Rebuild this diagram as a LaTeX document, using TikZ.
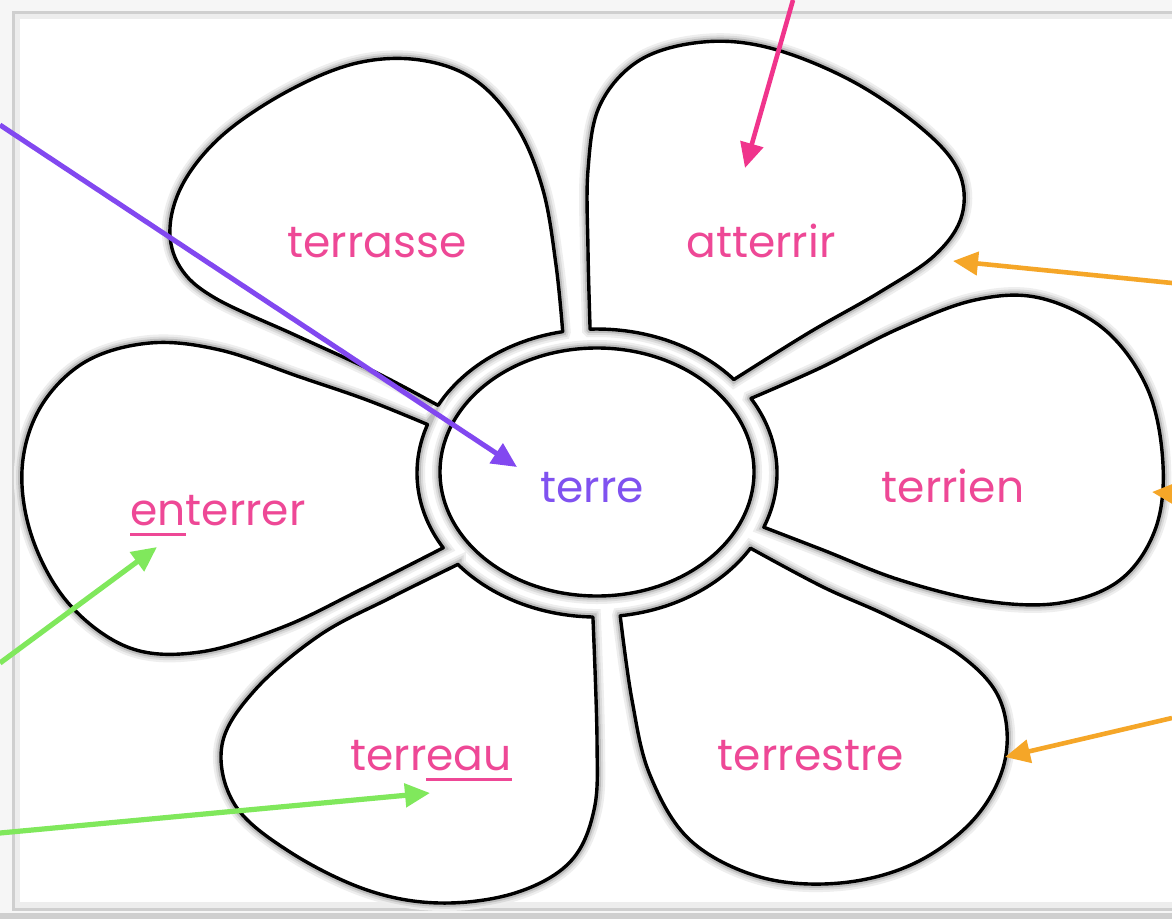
\documentclass[tikz,border=0pt]{standalone}
\usepackage{fontspec}
\setmainfont{Poppins}
\usetikzlibrary{arrows.meta}
\definecolor{pinktxt}{RGB}{238,72,150}
\definecolor{pinkarr}{RGB}{240,52,140}
\definecolor{purparr}{RGB}{130,72,240}
\definecolor{purptxt}{RGB}{128,82,240}
\definecolor{orangearr}{RGB}{245,166,40}
\definecolor{greenarr}{RGB}{128,232,92}
\newcommand\ulin[1]{\setbox0\hbox{#1}\rlap{\rule[-10.5pt]{\wd0}{2.5pt}}\box0}
\tikzset{
  halo/.style={preaction={draw=gray!13,line width=16pt},
               preaction={draw=gray!28,line width=11.5pt},
               draw=gray!52, line width=7.5pt},
  petal/.style={fill=white, draw=black, line width=3.4pt, line join=round},
  lbl/.style={anchor=base, inner sep=0pt, text=pinktxt, font=\fontsize{44}{50}\selectfont},
  arr/.style={line width=4.6pt, -{Triangle[length=25pt,width=23pt]}},
  pterrasse/.style={insert path={plot[smooth,tension=0.6] coordinates {(562.7,331.6) (556,265) (543,190) (517,127) (475,80) (420,60) (357,63) (290,90) (225,133) (185,180) (170,227) (180,267) (215,298) (295,335) (375,372) (438.1,405.4)} arc[start angle=-152, end angle=-101, x radius=180, y radius=144] -- cycle}},
  patterrir/.style={insert path={plot[smooth,tension=0.6] coordinates {(590.1,329.1) (588,250) (588,170) (600,105) (640,60) (703,42) (770,48) (850,80) (920,127) (958,170) (962,215) (935,255) (880,292) (810,332) (733.9,379.5)} arc[start angle=-40.5, end angle=-92.2, x radius=180, y radius=144] -- cycle}},
  penterrer/.style={insert path={plot[smooth,tension=0.6] coordinates {(427.5,424.5) (367,400) (300,377) (220,350) (150,343) (85,362) (40,408) (22,470) (33,540) (70,605) (130,648) (200,652) (283,627) (360,590) (443.2,547.8)} arc[start angle=148.7, end angle=199.7, x radius=180, y radius=144] -- cycle}},
  pterreau/.style={insert path={plot[smooth,tension=0.6] coordinates {(457.9,564.4) (390,598) (320,635) (255,690) (222,745) (235,805) (290,852) (367,890) (440,903) (515,893) (570,862) (594,810) (597,740) (592.9,617)} arc[start angle=91.3, end angle=140.6, x radius=180, y radius=144] -- cycle}},
  pterrestre/.style={insert path={plot[smooth,tension=0.6] coordinates {(620.2,615.8) (632,700) (650,775) (690,840) (760,877) (840,883) (915,863) (975,818) (1005,760) (1000,700) (960,655) (890,617) (823,587) (750.5,548.2)} arc[start angle=31.5, end angle=82.6, x radius=180, y radius=144] -- cycle}},
  pterrien/.style={insert path={plot[smooth,tension=0.6] coordinates {(751,398.4) (820,368) (900,328) (975,300) (1040,298) (1105,330) (1148,390) (1163,465) (1155,530) (1120,580) (1060,603) (985,601) (900,580) (823,550) (763.8,527.2)} arc[start angle=22.1, end angle=-31.2, x radius=180, y radius=144] -- cycle}},
  pcenter/.style={insert path={(597,472) ellipse[x radius=157, y radius=124]}}
}
\begin{document}
\begin{tikzpicture}[x=1pt,y=-1pt]
\useasboundingbox (0,0) rectangle (1172,919);
\clip (0,0) rectangle (1172,919);
% background and frame
\fill[gray!7] (0,0) rectangle (1172,919);
\fill[white] (13,12) rectangle (1200,909);
\draw[gray!14, line width=6pt] (17,16) rectangle (1200,905);
\draw[gray!38, line width=3pt] (13,12) rectangle (1200,909);
\fill[gray!38] (0,913) rectangle (1172,919);
% shadows
\path[halo, pterrasse];
\path[halo, patterrir];
\path[halo, penterrer];
\path[halo, pterreau];
\path[halo, pterrestre];
\path[halo, pterrien];
\path[halo, pcenter];
% petals
\path[petal, pterrasse];
\path[petal, patterrir];
\path[petal, penterrer];
\path[petal, pterreau];
\path[petal, pterrestre];
\path[petal, pterrien];
\path[petal, pcenter];
% labels
\node[lbl] (terrasse) at (377,257) {terrasse};
\node[lbl] (atterrir) at (761,257) {atterrir};
\node[lbl] (terrien) at (953,502) {terrien};
\node[lbl] (enterrer) at (218,525) {\ulin{en}terrer};
\node[lbl] (terreau) at (431,770) {terr\ulin{eau}};
\node[lbl] (terrestre) at (811,770) {terrestre};
\node[lbl, text=purptxt] (terre) at (592,502) {terre};
% arrows
\coordinate (pS) at (0,125);   \coordinate (pT) at (517,467);
\coordinate (kS) at (793,0);   \coordinate (kT) at (745,168);
\coordinate (o1S) at (1172,283); \coordinate (o1T) at (953,261);
\coordinate (o2S) at (1215,497); \coordinate (o2T) at (1152,492);
\coordinate (o3S) at (1172,718); \coordinate (o3T) at (1005,757);
\coordinate (g1S) at (0,663);  \coordinate (g1T) at (157,547);
\coordinate (g2S) at (0,833);  \coordinate (g2T) at (430,793);
\draw[arr, purparr, line width=5pt] (pS) -- (pT);
\draw[arr, pinkarr] (kS) -- (kT);
\draw[arr, orangearr] (o1S) -- (o1T);
\draw[arr, orangearr] (o2S) -- (o2T);
\draw[arr, orangearr] (o3S) -- (o3T);
\draw[arr, greenarr, line width=5.2pt] (g1S) -- (g1T);
\draw[arr, greenarr, line width=5.2pt] (g2S) -- (g2T);
\end{tikzpicture}
\end{document}
